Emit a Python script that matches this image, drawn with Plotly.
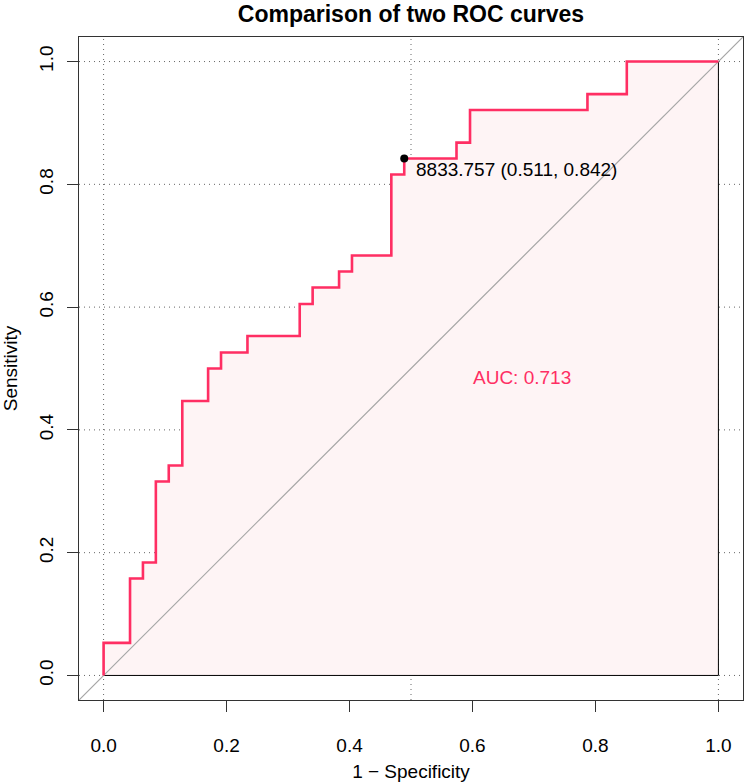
import plotly.graph_objects as go

# ROC curve vertices (1 - specificity, sensitivity), step curve
fpr = [0.0, 0.0, 0.043, 0.064, 0.085, 0.106, 0.128, 0.170, 0.191, 0.234, 0.319,
       0.340, 0.383, 0.404, 0.468, 0.489, 0.574, 0.596, 0.787, 0.851, 1.0]
tpr = [0.0, 0.053, 0.158, 0.184, 0.316, 0.342, 0.447, 0.500, 0.526, 0.553, 0.605,
       0.632, 0.658, 0.684, 0.816, 0.842, 0.868, 0.921, 0.947, 1.0, 1.0]

best_threshold = 8833.757
best_specificity = 0.511
best_sensitivity = 0.842
auc_value = 0.713

tick_vals = [0.0, 0.2, 0.4, 0.6, 0.8, 1.0]
tick_text = ["0.0", "0.2", "0.4", "0.6", "0.8", "1.0"]
grid_x = [0.0, 0.5, 1.0]
grid_y = [0.0, 0.2, 0.4, 0.6, 0.8, 1.0]

FONT = "Liberation Sans, Arial, Helvetica, sans-serif"
CURVE = "#FF2E63"
FILL = "#FEF4F5"

fig = go.Figure()

# AUC polygon
fig.add_trace(go.Scatter(
    x=fpr + [1.0, 0.0], y=tpr + [0.0, 0.0],
    mode="lines", line=dict(color="black", width=1, shape="hv"),
    fill="toself", fillcolor=FILL, hoverinfo="skip", showlegend=False))

# chance diagonal
fig.add_trace(go.Scatter(
    x=[-0.04, 1.04], y=[-0.04, 1.04], mode="lines",
    line=dict(color="#A6A6A6", width=1.2), hoverinfo="skip", showlegend=False))

# ROC curve
fig.add_trace(go.Scatter(
    x=fpr, y=tpr, mode="lines",
    line=dict(color=CURVE, width=2.6, shape="hv"), showlegend=False))

# best threshold point
fig.add_trace(go.Scatter(
    x=[1 - best_specificity], y=[best_sensitivity], mode="markers",
    marker=dict(color="black", size=8), showlegend=False))

shapes = []
for gx in grid_x:
    shapes.append(dict(type="line", xref="x", yref="paper", x0=gx, x1=gx, y0=0, y1=1,
                       line=dict(color="#666666", width=1, dash="1px,4px"), layer="below"))
for gy in grid_y:
    shapes.append(dict(type="line", xref="paper", yref="y", x0=0, x1=1, y0=gy, y1=gy,
                       line=dict(color="#666666", width=1, dash="1px,4px"), layer="below"))

annotations = [
    dict(x=1 - best_specificity, y=best_sensitivity, xref="x", yref="y",
         text=f"{best_threshold:.3f} ({best_specificity:.3f}, {best_sensitivity:.3f})",
         showarrow=False, xanchor="left", yanchor="top", xshift=10, yshift=2,
         font=dict(family=FONT, size=19, color="black")),
    dict(x=0.680, y=0.486, xref="x", yref="y", text=f"AUC: {auc_value:.3f}",
         showarrow=False, xanchor="center", yanchor="middle",
         font=dict(family=FONT, size=19, color=CURVE)),
]

axis_common = dict(
    range=[-0.04, 1.04], tickvals=tick_vals, ticktext=tick_text,
    ticks="outside", ticklen=11, tickwidth=1, tickcolor="#333333",
    showgrid=False, zeroline=False, showline=True, mirror=True,
    linecolor="#333333", linewidth=1.2, automargin=False,
    tickfont=dict(family=FONT, size=19, color="black"),
)

fig.update_layout(
    width=744, height=784,
    margin=dict(l=79, r=1, t=37, b=84, autoexpand=False),
    paper_bgcolor="white", plot_bgcolor="white",
    title=dict(text="<b>Comparison of two ROC curves</b>", x=0.5, xref="paper",
               y=1 - 14 / 784, yref="container", yanchor="middle", xanchor="center",
               font=dict(family=FONT, size=23, color="black")),
    xaxis=dict(**axis_common,
               title=dict(text="1 − Specificity", standoff=9,
                          font=dict(family=FONT, size=19, color="black")),
               ticklabelstandoff=17),
    yaxis=dict(**axis_common, tickangle=-90,
               title=dict(text="Sensitivity", standoff=15,
                          font=dict(family=FONT, size=19, color="black")),
               ticklabelstandoff=6),
    shapes=shapes, annotations=annotations,
)

fig.write_html("out.html", config={"displayModeBar": False},
               post_script="document.body.style.margin='0';document.body.style.padding='0';")
